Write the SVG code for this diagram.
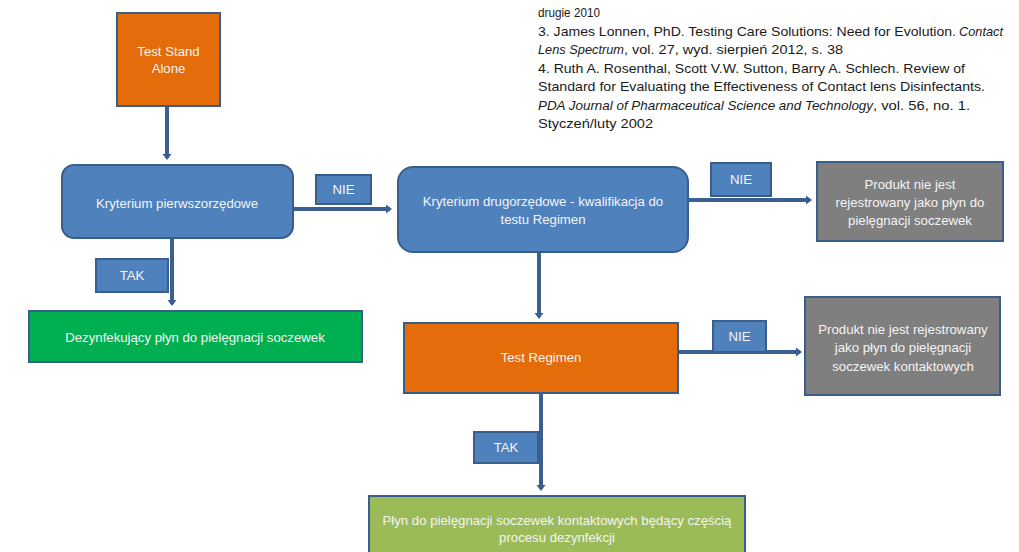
<svg xmlns="http://www.w3.org/2000/svg" width="1019" height="552" viewBox="0 0 1019 552">
<defs>
<marker id="ah" markerWidth="10" markerHeight="10" refX="4" refY="5" orient="auto" markerUnits="userSpaceOnUse" viewBox="0 0 10 10">
<path d="M0,0.5 L6,5 L0,9.5 Z" fill="#3C5F91"/>
</marker>
<style>
.box{stroke:#3A5E8C;stroke-width:2}
.blue{fill:#4F81BD}
.orange{fill:#E46C0A}
.gray{fill:#7F7F7F}
.green{fill:#00B050}
.lgreen{fill:#9BBB59}
.t{font-family:"Liberation Sans",Arial,sans-serif;font-size:13.2px;fill:#F4F4F4;text-anchor:middle}
.ref{font-family:"Liberation Sans",Arial,sans-serif;font-size:13.5px;fill:#1A1A1A}
.it{font-style:italic}
.c{fill:none;stroke:#3C5F91;stroke-width:4}
</style>
</defs>
<rect width="1019" height="552" fill="#FFFFFF"/>

<g id="references">
<text class="ref" x="538" y="17" textLength="62" lengthAdjust="spacingAndGlyphs">drugie 2010</text>
<text class="ref" x="538" y="35.5" textLength="418" lengthAdjust="spacingAndGlyphs">3. James Lonnen, PhD. Testing Care Solutions: Need for Evolution.</text>
<text class="ref it" x="959" y="35.5" textLength="44" lengthAdjust="spacingAndGlyphs">Contact</text>
<text class="ref it" x="538" y="54" textLength="86" lengthAdjust="spacingAndGlyphs">Lens Spectrum</text>
<text class="ref" x="624" y="54" textLength="219" lengthAdjust="spacingAndGlyphs">, vol. 27, wyd. sierpień 2012, s. 38</text>
<text class="ref" x="538" y="72.5" textLength="427" lengthAdjust="spacingAndGlyphs">4. Ruth A. Rosenthal, Scott V.W. Sutton, Barry A. Schlech. Review of</text>
<text class="ref" x="538" y="91" textLength="447" lengthAdjust="spacingAndGlyphs">Standard for Evaluating the Effectiveness of Contact lens Disinfectants.</text>
<text class="ref it" x="538" y="109.5" textLength="335" lengthAdjust="spacingAndGlyphs">PDA Journal of Pharmaceutical Science and Technology</text>
<text class="ref" x="873" y="109.5" textLength="97" lengthAdjust="spacingAndGlyphs">, vol. 56, no. 1.</text>
<text class="ref" x="538" y="128" textLength="115" lengthAdjust="spacingAndGlyphs">Styczeń/luty 2002</text>
</g>

<g id="connectors">
<line class="c" x1="167" y1="107" x2="167" y2="158" marker-end="url(#ah)"/>
<line class="c" x1="293" y1="209" x2="390" y2="209" marker-end="url(#ah)"/>
<line class="c" x1="688" y1="200" x2="810" y2="200" marker-end="url(#ah)"/>
<line class="c" x1="172" y1="239" x2="172" y2="304" marker-end="url(#ah)"/>
<line class="c" x1="539" y1="253" x2="539" y2="317" marker-end="url(#ah)"/>
<line class="c" x1="679" y1="352" x2="800" y2="352" marker-end="url(#ah)"/>
<line class="c" x1="541" y1="394" x2="541" y2="489" marker-end="url(#ah)"/>
</g>

<g id="n-test-stand-alone">
<rect class="box orange" x="117" y="13" width="103" height="93"/>
<text class="t" x="168.5" y="56">Test Stand</text>
<text class="t" x="168.5" y="73">Alone</text>
</g>

<g id="n-kryterium-pierwszorzedowe">
<rect class="box blue" x="62" y="165" width="231" height="73" rx="12"/>
<text class="t" x="177" y="208">Kryterium pierwszorzędowe</text>
</g>

<g id="n-nie-1">
<rect class="box blue" x="316" y="175" width="55" height="29"/>
<text class="t" x="343.5" y="194">NIE</text>
</g>

<g id="n-kryterium-drugorzedowe">
<rect class="box blue" x="398" y="167" width="290" height="85" rx="15"/>
<text class="t" x="543" y="206">Kryterium drugorzędowe - kwalifikacja do</text>
<text class="t" x="543" y="224">testu Regimen</text>
</g>

<g id="n-nie-2">
<rect class="box blue" x="711" y="163" width="60" height="33"/>
<text class="t" x="741" y="184">NIE</text>
</g>

<g id="n-produkt-1">
<rect class="box gray" x="817" y="162" width="186" height="79"/>
<text class="t" x="910" y="189">Produkt nie jest</text>
<text class="t" x="910" y="207">rejestrowany jako płyn do</text>
<text class="t" x="910" y="225">pielęgnacji soczewek</text>
</g>

<g id="n-tak-1">
<rect class="box blue" x="96" y="259" width="72" height="33"/>
<text class="t" x="132" y="280">TAK</text>
</g>

<g id="n-dezynfekujacy">
<rect class="box green" x="29" y="311" width="333" height="51"/>
<text class="t" x="195" y="342">Dezynfekujący płyn do pielęgnacji soczewek</text>
</g>

<g id="n-test-regimen">
<rect class="box orange" x="404" y="323" width="274" height="70"/>
<text class="t" x="541" y="362">Test Regimen</text>
</g>

<g id="n-nie-3">
<rect class="box blue" x="713" y="321" width="53" height="31"/>
<text class="t" x="739.5" y="341">NIE</text>
</g>

<g id="n-produkt-2">
<rect class="box gray" x="805" y="297" width="195" height="98"/>
<text class="t" x="903" y="334">Produkt nie jest rejestrowany</text>
<text class="t" x="903" y="352">jako płyn do pielęgnacji</text>
<text class="t" x="903" y="371">soczewek kontaktowych</text>
</g>

<g id="n-tak-2">
<rect class="box blue" x="474" y="432" width="64" height="31"/>
<text class="t" x="506" y="452">TAK</text>
</g>

<g id="n-plyn">
<rect class="box lgreen" x="369" y="496" width="376" height="60"/>
<text class="t" x="557" y="525">Płyn do pielęgnacji soczewek kontaktowych będący częścią</text>
<text class="t" x="557" y="542">procesu dezynfekcji</text>
</g>
</svg>
